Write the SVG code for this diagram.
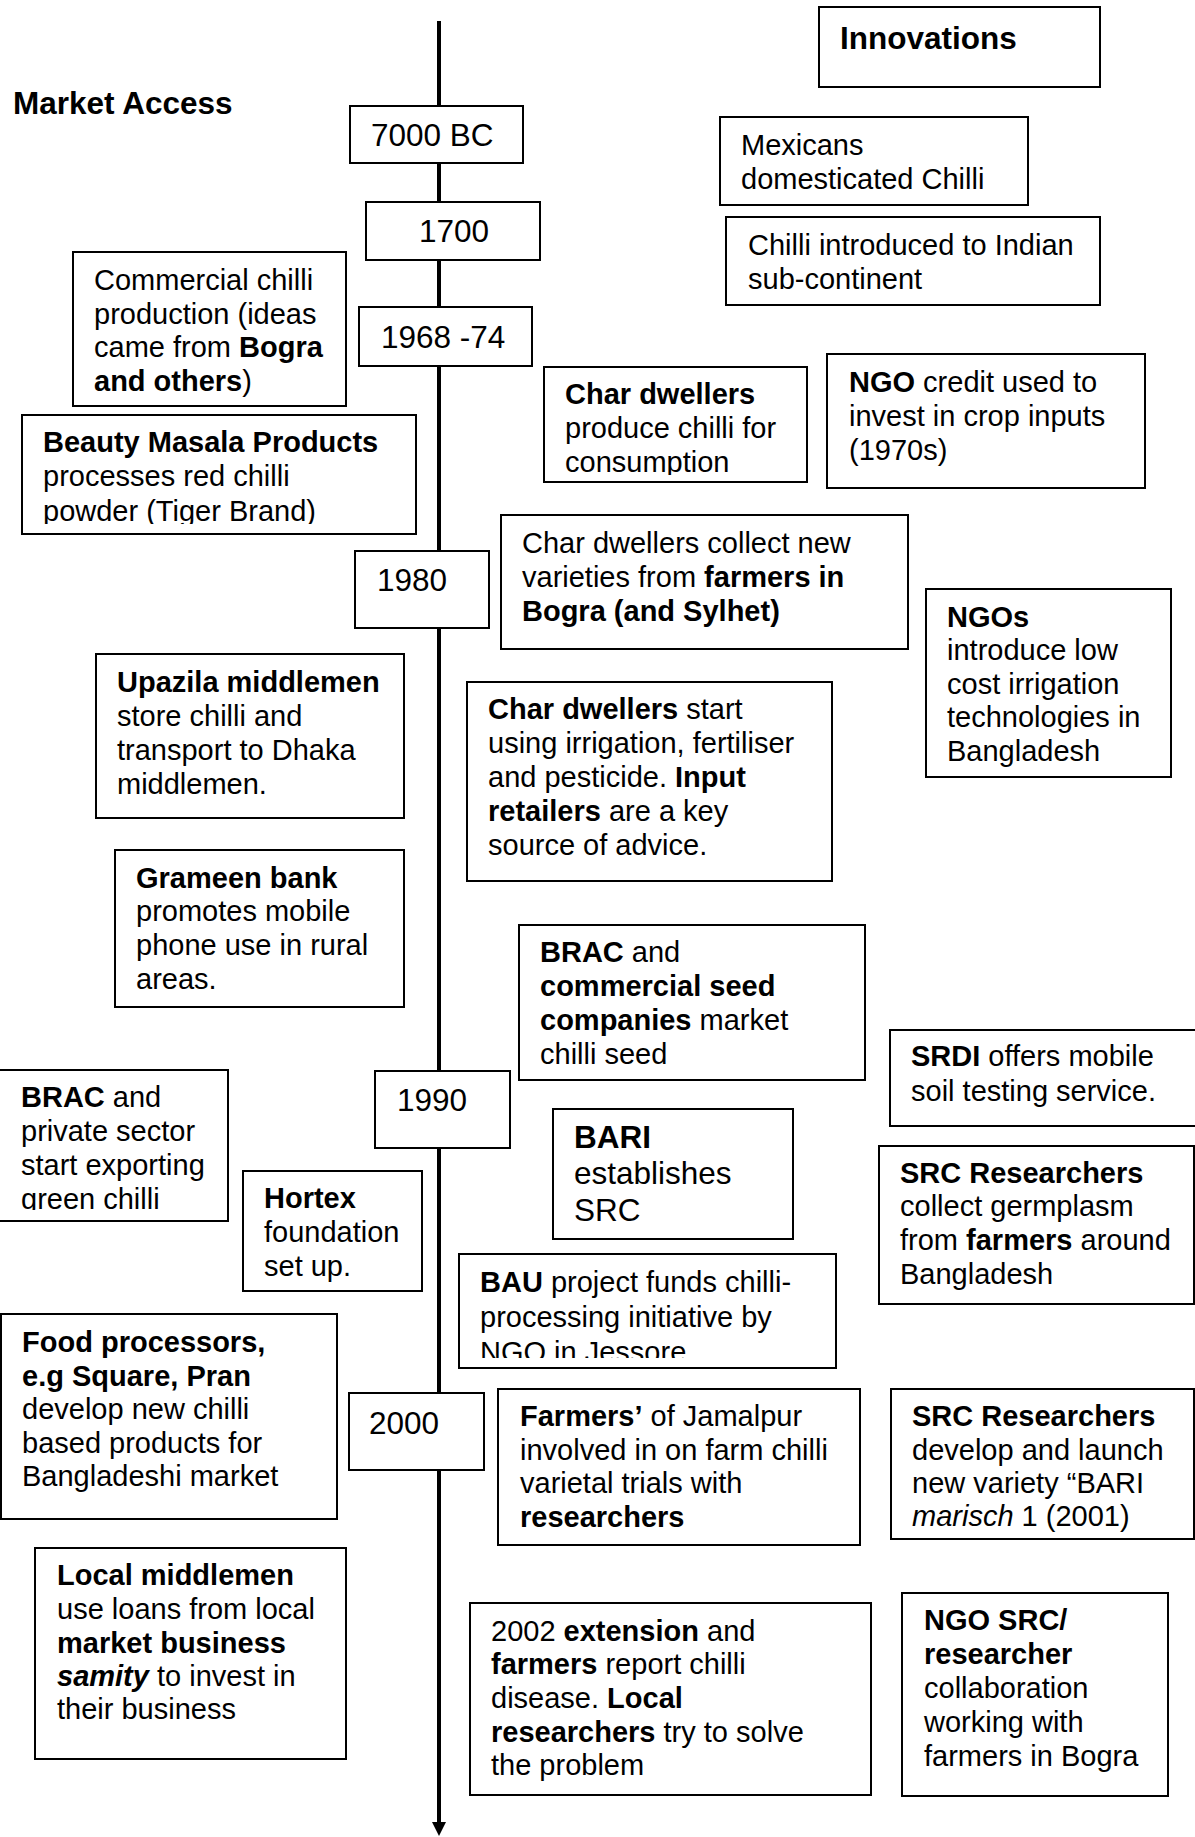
<svg xmlns="http://www.w3.org/2000/svg" width="1195" height="1837" viewBox="0 0 1195 1837">
<style>
text{font-family:"Liberation Sans",Arial,sans-serif;font-size:29px;fill:#000}
.b{font-weight:bold}
.i{font-style:italic}
.y{font-size:31.5px}
.h{font-size:31.5px;font-weight:bold}
rect.box{fill:#fff;stroke:#000;stroke-width:2}
</style>
<defs>
<clipPath id="c1"><rect x="544" y="367" width="263" height="108"/></clipPath>
<clipPath id="c2"><rect x="22" y="415" width="394" height="109"/></clipPath>
<clipPath id="c3"><rect x="0" y="1070" width="228" height="140"/></clipPath>
<clipPath id="c4"><rect x="459" y="1254" width="377" height="104"/></clipPath>
</defs>
<g id="connectors">
<line x1="439" y1="21" x2="439" y2="1824" stroke="#000" stroke-width="4"/>
<polygon points="432,1822 446,1822 439,1836" fill="#000"/>
</g>
<g id="market-access"><text x="13" y="114" class="h">Market Access</text></g>
<g id="innovations"><rect class="box" x="819" y="7" width="281" height="80"/><text x="840" y="49" class="h">Innovations</text></g>
<g id="y7000"><rect class="box" x="350" y="106" width="173" height="57"/><text x="371" y="146" class="y">7000 BC</text></g>
<g id="y1700"><rect class="box" x="366" y="202" width="174" height="58"/><text x="419" y="242" class="y">1700</text></g>
<g id="y1968"><rect class="box" x="359" y="307" width="173" height="59"/><text x="381" y="348" class="y">1968 -74</text></g>
<g id="y1980"><rect class="box" x="355" y="551" width="134" height="77"/><text x="377" y="591" class="y">1980</text></g>
<g id="y1990"><rect class="box" x="375" y="1071" width="135" height="77"/><text x="397" y="1111" class="y">1990</text></g>
<g id="y2000"><rect class="box" x="349" y="1393" width="135" height="77"/><text x="369" y="1434" class="y">2000</text></g>
<g id="mexicans"><rect class="box" x="720" y="117" width="308" height="88"/>
<text x="741" y="155">Mexicans</text><text x="741" y="189">domesticated Chilli</text></g>
<g id="introduced"><rect class="box" x="726" y="217" width="374" height="88"/>
<text x="748" y="255">Chilli introduced to Indian</text><text x="748" y="289">sub-continent</text></g>
<g id="commercial"><rect class="box" x="73" y="252" width="273" height="154"/>
<text x="94" y="290">Commercial chilli</text><text x="94" y="324">production (ideas</text>
<text x="94" y="357">came from <tspan class="b">Bogra</tspan></text><text x="94" y="391"><tspan class="b">and others</tspan>)</text></g>
<g id="char-produce"><rect class="box" x="544" y="367" width="263" height="115"/>
<g clip-path="url(#c1)"><text x="565" y="404" class="b">Char dwellers</text><text x="565" y="438">produce chilli for</text><text x="565" y="472">consumption</text></g></g>
<g id="ngo-credit"><rect class="box" x="827" y="354" width="318" height="134"/>
<text x="849" y="392"><tspan class="b">NGO</tspan> credit used to</text><text x="849" y="426">invest in crop inputs</text><text x="849" y="460">(1970s)</text></g>
<g id="beauty"><rect class="box" x="22" y="415" width="394" height="119"/>
<g clip-path="url(#c2)"><text x="43" y="452" class="b">Beauty Masala Products</text><text x="43" y="486">processes red chilli</text><text x="43" y="521">powder (Tiger Brand)</text></g></g>
<g id="char-collect"><rect class="box" x="501" y="515" width="407" height="134"/>
<text x="522" y="553">Char dwellers collect new</text><text x="522" y="587">varieties from <tspan class="b">farmers in</tspan></text><text x="522" y="621" class="b">Bogra (and Sylhet)</text></g>
<g id="ngos"><rect class="box" x="926" y="589" width="245" height="188"/>
<text x="947" y="627" class="b">NGOs</text><text x="947" y="660">introduce low</text><text x="947" y="694">cost irrigation</text><text x="947" y="727">technologies in</text><text x="947" y="761">Bangladesh</text></g>
<g id="upazila"><rect class="box" x="96" y="654" width="308" height="164"/>
<text x="117" y="692" class="b">Upazila middlemen</text><text x="117" y="726">store chilli and</text><text x="117" y="760">transport to Dhaka</text><text x="117" y="794">middlemen.</text></g>
<g id="char-start"><rect class="box" x="467" y="682" width="365" height="199"/>
<text x="488" y="719"><tspan class="b">Char dwellers</tspan> start</text><text x="488" y="753">using irrigation, fertiliser</text><text x="488" y="787">and pesticide. <tspan class="b">Input</tspan></text><text x="488" y="821"><tspan class="b">retailers</tspan> are a key</text><text x="488" y="855">source of advice.</text></g>
<g id="grameen"><rect class="box" x="115" y="850" width="289" height="157"/>
<text x="136" y="888" class="b">Grameen bank</text><text x="136" y="921">promotes mobile</text><text x="136" y="955">phone use in rural</text><text x="136" y="989">areas.</text></g>
<g id="brac-seed"><rect class="box" x="519" y="925" width="346" height="155"/>
<text x="540" y="962"><tspan class="b">BRAC</tspan> and</text><text x="540" y="996" class="b">commercial seed</text><text x="540" y="1030"><tspan class="b">companies</tspan> market</text><text x="540" y="1064">chilli seed</text></g>
<g id="srdi"><rect class="box" x="890" y="1030" width="310" height="96"/>
<text x="911" y="1066"><tspan class="b">SRDI</tspan> offers mobile</text><text x="911" y="1101">soil testing service.</text></g>
<g id="brac-export"><rect class="box" x="-2" y="1070" width="230" height="151"/>
<g clip-path="url(#c3)"><text x="21" y="1107"><tspan class="b">BRAC</tspan> and</text><text x="21" y="1141">private sector</text><text x="21" y="1175">start exporting</text><text x="21" y="1209">green chilli</text></g></g>
<g id="bari"><rect class="box" x="553" y="1109" width="240" height="130"/>
<text x="574" y="1148" class="h">BARI</text><text x="574" y="1184" class="y">establishes</text><text x="574" y="1221" class="y">SRC</text></g>
<g id="src-collect"><rect class="box" x="879" y="1146" width="315" height="158"/>
<text x="900" y="1183" class="b">SRC Researchers</text><text x="900" y="1216">collect germplasm</text><text x="900" y="1250">from <tspan class="b">farmers</tspan> around</text><text x="900" y="1284">Bangladesh</text></g>
<g id="hortex"><rect class="box" x="243" y="1171" width="179" height="120"/>
<text x="264" y="1208" class="b">Hortex</text><text x="264" y="1242">foundation</text><text x="264" y="1276">set up.</text></g>
<g id="bau"><rect class="box" x="459" y="1254" width="377" height="114"/>
<g clip-path="url(#c4)"><text x="480" y="1292"><tspan class="b">BAU</tspan> project funds chilli-</text><text x="480" y="1327">processing initiative by</text><text x="480" y="1362">NGO in Jessore</text></g></g>
<g id="food"><rect class="box" x="1" y="1314" width="336" height="205"/>
<text x="22" y="1352" class="b">Food processors,</text><text x="22" y="1386" class="b">e.g Square, Pran</text><text x="22" y="1419">develop new chilli</text><text x="22" y="1453">based products for</text><text x="22" y="1486">Bangladeshi market</text></g>
<g id="farmers"><rect class="box" x="498" y="1389" width="362" height="156"/>
<text x="520" y="1426"><tspan class="b">Farmers’</tspan> of Jamalpur</text><text x="520" y="1460">involved in on farm chilli</text><text x="520" y="1493">varietal trials with</text><text x="520" y="1527" class="b">researchers</text></g>
<g id="src-develop"><rect class="box" x="891" y="1389" width="303" height="150"/>
<text x="912" y="1426" class="b">SRC Researchers</text><text x="912" y="1460">develop and launch</text><text x="912" y="1493">new variety “BARI</text><text x="912" y="1526"><tspan class="i">marisch</tspan> 1 (2001)</text></g>
<g id="local"><rect class="box" x="35" y="1548" width="311" height="211"/>
<text x="57" y="1585" class="b">Local middlemen</text><text x="57" y="1619">use loans from local</text><text x="57" y="1653" class="b">market business</text><text x="57" y="1686"><tspan class="b i">samity</tspan> to invest in</text><text x="57" y="1719">their business</text></g>
<g id="extension"><rect class="box" x="470" y="1603" width="401" height="192"/>
<text x="491" y="1641">2002 <tspan class="b">extension</tspan> and</text><text x="491" y="1674"><tspan class="b">farmers</tspan> report chilli</text><text x="491" y="1708">disease. <tspan class="b">Local</tspan></text><text x="491" y="1742"><tspan class="b">researchers</tspan> try to solve</text><text x="491" y="1775">the problem</text></g>
<g id="ngo-src"><rect class="box" x="902" y="1593" width="266" height="203"/>
<text x="924" y="1630" class="b">NGO SRC/</text><text x="924" y="1664" class="b">researcher</text><text x="924" y="1698">collaboration</text><text x="924" y="1732">working with</text><text x="924" y="1766">farmers in Bogra</text></g>
</svg>
